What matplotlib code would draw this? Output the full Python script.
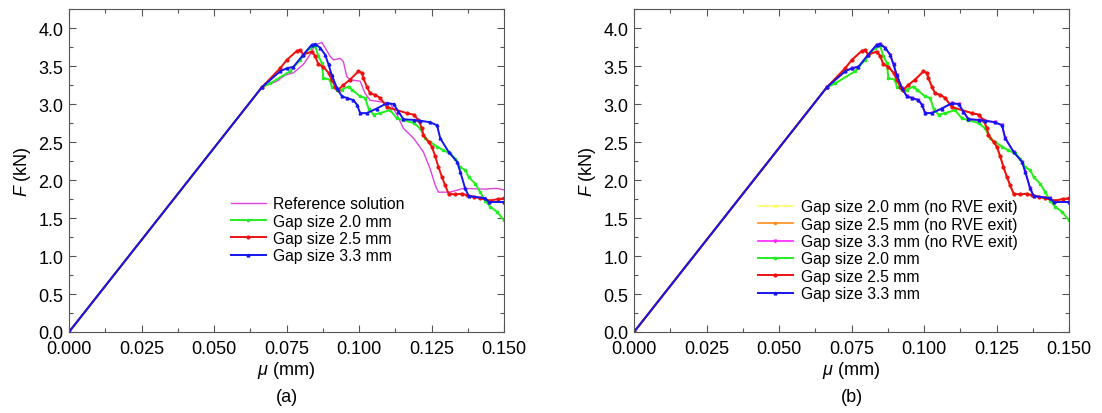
import matplotlib
matplotlib.use('Agg')
from matplotlib import pyplot as plt
from matplotlib.ticker import MultipleLocator

plt.rcParams['font.family'] = ['Liberation Sans', 'DejaVu Sans']
plt.rcParams['mathtext.fontset'] = 'custom'
plt.rcParams['mathtext.rm'] = 'Liberation Sans'
plt.rcParams['mathtext.it'] = 'Liberation Sans:italic'

# reference solution (magenta)
ref_x = [0, 0.0665, 0.0717, 0.0745, 0.0774, 0.0808, 0.0831, 0.0849, 0.0872, 0.0883,
         0.0900, 0.0912, 0.0935, 0.0946, 0.0958, 0.0969, 0.1004, 0.1021, 0.1038, 0.1073,
         0.1107, 0.1131, 0.1153, 0.1188, 0.1222, 0.1245, 0.1263, 0.1274, 0.1314, 0.1360,
         0.1429, 0.1476, 0.150]
ref_y = [0, 3.22, 3.30, 3.38, 3.41, 3.52, 3.65, 3.78, 3.81, 3.74,
         3.63, 3.58, 3.60, 3.56, 3.36, 3.32, 3.30, 3.14, 3.05, 3.03,
         3.01, 2.86, 2.68, 2.55, 2.37, 2.15, 1.93, 1.84, 1.84, 1.89,
         1.88, 1.89, 1.87]

# gap size 2.0 mm
g20_x = [0, 0.0665, 0.0693, 0.0762, 0.0797, 0.0831, 0.0849, 0.0860, 0.0872, 0.0877,
         0.0900, 0.0906, 0.0924, 0.0941, 0.0964, 0.0975, 0.1004, 0.1021, 0.1033, 0.1050,
         0.1073, 0.1107, 0.1131, 0.1153, 0.1188, 0.1211, 0.1228, 0.1245, 0.1269, 0.1291,
         0.1314, 0.1332, 0.1349, 0.1366, 0.1378, 0.1401, 0.1418, 0.1435, 0.1452, 0.1476,
         0.150]
g20_y = [0, 3.22, 3.27, 3.43, 3.58, 3.74, 3.76, 3.63, 3.54, 3.34,
         3.32, 3.23, 3.19, 3.19, 3.23, 3.19, 3.10, 3.08, 2.94, 2.86,
         2.88, 2.92, 2.81, 2.79, 2.75, 2.68, 2.55, 2.50, 2.44, 2.39,
         2.35, 2.28, 2.17, 2.13, 2.04, 1.95, 1.84, 1.73, 1.65, 1.58,
         1.47]

# gap size 2.5 mm
g25_x = [0, 0.0665, 0.0728, 0.0751, 0.0786, 0.0797, 0.0808, 0.0837, 0.0849, 0.0860,
         0.0877, 0.0895, 0.0906, 0.0918, 0.0929, 0.0946, 0.0969, 0.0998, 0.1010, 0.1015,
         0.1027, 0.1038, 0.1056, 0.1073, 0.1096, 0.1165, 0.1188, 0.1205, 0.1217, 0.1222,
         0.1240, 0.1251, 0.1263, 0.1274, 0.1286, 0.1297, 0.1309, 0.1332, 0.1355, 0.1372,
         0.1395, 0.1418, 0.1452, 0.1481, 0.150]
g25_y = [0, 3.22, 3.47, 3.58, 3.70, 3.71, 3.65, 3.69, 3.63, 3.52,
         3.49, 3.41, 3.32, 3.23, 3.19, 3.25, 3.32, 3.43, 3.41, 3.34,
         3.23, 3.14, 3.12, 3.08, 2.96, 2.88, 2.86, 2.79, 2.68, 2.59,
         2.50, 2.44, 2.31, 2.17, 2.04, 1.93, 1.82, 1.81, 1.82, 1.80,
         1.78, 1.76, 1.73, 1.75, 1.76]

# gap size 3.3 mm
g33_x = [0, 0.0665, 0.0728, 0.0751, 0.0774, 0.0808, 0.0837, 0.0849, 0.0866, 0.0883,
         0.0895, 0.0906, 0.0924, 0.0941, 0.0958, 0.0981, 0.0993, 0.1004, 0.1027, 0.1061,
         0.1096, 0.1119, 0.1136, 0.1153, 0.1188, 0.1211, 0.1245, 0.1269, 0.1280, 0.1309,
         0.1338, 0.1349, 0.1366, 0.1378, 0.1435, 0.1447, 0.150]
g33_y = [0, 3.22, 3.43, 3.47, 3.49, 3.65, 3.78, 3.79, 3.74, 3.65,
         3.52, 3.38, 3.21, 3.10, 3.08, 3.05, 2.99, 2.88, 2.88, 2.94,
         3.01, 3.00, 2.90, 2.80, 2.79, 2.78, 2.76, 2.72, 2.55, 2.37,
         2.24, 2.11, 1.89, 1.79, 1.76, 1.71, 1.71]

xticks = [0.000, 0.025, 0.050, 0.075, 0.100, 0.125, 0.150]
yticks = [0.0, 0.5, 1.0, 1.5, 2.0, 2.5, 3.0, 3.5, 4.0]

GREEN = '#22ee22'
RED = '#ee1111'
BLUE = '#1515ee'
MAG = '#dd44dd'

fig = plt.figure(figsize=(11.02, 4.14), dpi=100)
ax1 = fig.add_axes([69/1102, 81/414, 435/1102, 323/414])
ax2 = fig.add_axes([634/1102, 81/414, 435/1102, 323/414])


def style(ax, letter):
    ax.set_xlim(0, 0.150)
    ax.set_ylim(0, 4.25)
    ax.set_xticks(xticks)
    ax.set_xticklabels(['%.3f' % v for v in xticks])
    ax.set_yticks(yticks)
    ax.set_yticklabels(['%.1f' % v for v in yticks])
    ax.xaxis.set_minor_locator(MultipleLocator(0.0125))
    ax.yaxis.set_minor_locator(MultipleLocator(0.25))
    ax.tick_params(which='both', direction='in', top=True, right=True,
                   labelsize=13, width=0.8, color='#555555')
    ax.tick_params(which='major', length=5)
    ax.tick_params(which='minor', length=3)
    ax.tick_params(axis='x', pad=6)
    ax.tick_params(axis='y', pad=4)
    for s in ax.spines.values():
        s.set_linewidth(0.8)
        s.set_color('#555555')
    ax.set_xlabel(r'$\mu$ (mm)', fontsize=13, labelpad=1)
    ax.set_ylabel(r'$F$ (kN)', fontsize=13, labelpad=4)
    ax.text(0.5, -0.20, letter, transform=ax.transAxes, ha='center', va='center', fontsize=13)


# panel (a)
ax1.plot(ref_x, ref_y, color=MAG, lw=1.0, label='Reference solution')
ax1.plot(g20_x, g20_y, color=GREEN, lw=1.4, marker='s', ms=2, label='Gap size 2.0 mm')
ax1.plot(g25_x, g25_y, color=RED, lw=1.4, marker='o', ms=2, label='Gap size 2.5 mm')
ax1.plot(g33_x, g33_y, color=BLUE, lw=1.4, marker='^', ms=2, label='Gap size 3.3 mm')
style(ax1, '(a)')
ax1.legend(loc='upper left', bbox_to_anchor=(0.358, 0.44), frameon=False, fontsize=11.3,
           handlelength=2.2, handletextpad=0.5, labelspacing=0.15, borderaxespad=0)

# panel (b)
ax2.plot(g20_x, g20_y, color='#ffff66', lw=1.2, marker='.', ms=3, label='Gap size 2.0 mm (no RVE exit)')
ax2.plot(g25_x, g25_y, color='#ff8c1a', lw=1.2, marker='.', ms=3, label='Gap size 2.5 mm (no RVE exit)')
ax2.plot(g33_x, g33_y, color='#ff22ff', lw=1.2, marker='v', ms=2, label='Gap size 3.3 mm (no RVE exit)')
ax2.plot(g20_x, g20_y, color=GREEN, lw=1.4, marker='s', ms=2, label='Gap size 2.0 mm')
ax2.plot(g25_x, g25_y, color=RED, lw=1.4, marker='o', ms=2, label='Gap size 2.5 mm')
ax2.plot(g33_x, g33_y, color=BLUE, lw=1.4, marker='^', ms=2, label='Gap size 3.3 mm')
style(ax2, '(b)')
ax2.legend(loc='upper left', bbox_to_anchor=(0.271, 0.43), frameon=False, fontsize=11.3,
           handlelength=2.2, handletextpad=0.5, labelspacing=0.15, borderaxespad=0)

fig.savefig('out.png', dpi=100)
